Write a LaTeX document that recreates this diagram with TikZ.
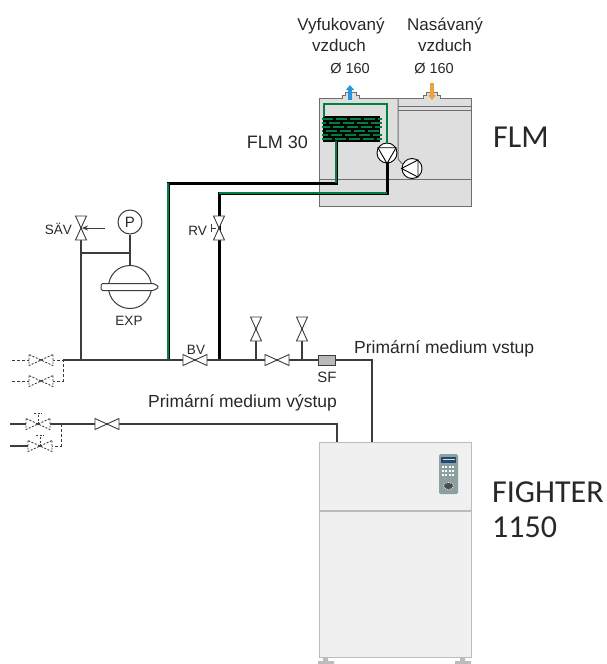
\documentclass[tikz,border=0pt]{standalone}
\usepackage{fontspec}
\setmainfont{Liberation Sans}
\newfontfamily\unitfont{Carlito}
\usetikzlibrary{arrows.meta}

\definecolor{pipegreen}{RGB}{0,128,64}
\definecolor{pipegray}{RGB}{60,60,60}
\definecolor{textgray}{RGB}{40,40,40}
\definecolor{flmfill}{RGB}{222,222,222}
\definecolor{flmline}{RGB}{110,110,110}
\definecolor{figfill}{RGB}{240,240,240}
\definecolor{figline}{RGB}{188,188,188}
\definecolor{outblue}{RGB}{40,150,220}
\definecolor{inorange}{RGB}{240,160,60}
\definecolor{panelgray}{RGB}{140,160,160}
\definecolor{paneldisp}{RGB}{40,70,110}

\tikzset{
  pipe/.style={draw=pipegray, line width=1.2pt},
  dashpipe/.style={pipe, line width=0.9pt, dash pattern=on 3pt off 2pt},
  mainpipe/.style={draw=black, line width=3pt},
  core/.style={draw=pipegreen, line width=1.4pt},
  lbl/.style={font=\fontsize{13.5}{15}\selectfont, inner sep=0pt, text=textgray},
  medlbl/.style={font=\fontsize{17.5}{20}\selectfont, inner sep=0pt, anchor=base west, text=textgray},
  airlbl/.style={font=\fontsize{17}{20}\selectfont, inner sep=0pt, anchor=base, text=textgray},
  unitlbl/.style={font=\unitfont\fontsize{32}{35}\selectfont, inner sep=0pt, anchor=base west, text=textgray},
  rotor/.style={circle, draw=black, fill=white, line width=0.9pt, minimum size=20pt, inner sep=0pt},
  valve/.pic={
    \draw[pipegray, line width=0.9pt, fill=white] (-12,-5.5) -- (-12,5.5) -- (0,0) -- cycle;
    \draw[pipegray, line width=0.9pt, fill=white] (12,-5.5) -- (12,5.5) -- (0,0) -- cycle;
    \fill[pipegray] (0,0) circle (1.1pt);
  },
  gatevalve/.pic={
    \pic {valve};
    \draw[pipegray, line width=0.9pt] (0,0) -- (0,-11) (-4,-11) -- (4,-11);
  }
}

\begin{document}
\begin{tikzpicture}[x=1pt,y=-1pt]
\useasboundingbox (0,0) rectangle (607,664);

% FLM casing
\draw[fill=flmfill, draw=flmline, line width=1pt] (319,98) -- (342,98) -- (342,95) -- (345,95)
  -- (345,92.5) -- (356,92.5) -- (356,95) -- (359,95) -- (359,98) -- (423,98) -- (423,95)
  -- (426,95) -- (426,92.5) -- (437,92.5) -- (437,95) -- (440,95) -- (440,98) -- (471,98)
  -- (471,206) -- (319,206) -- cycle;
\draw[flmline, line width=1pt] (319,179) -- (471,179);
\draw[flmline, line width=1pt] (398,106) -- (471,106) (398,110) -- (471,110);

% air in / out
\draw[outblue, line width=3.5pt, -{Triangle[width=8pt,length=5pt]}] (350,100) -- (350,85);
\draw[inorange, line width=3.5pt, -{Triangle[width=8pt,length=5pt]}] (432,83) -- (432,100);

% fan and pump
\node[rotor] (fan) at (412,168.5) {};
\draw[line width=0.9pt] (fan.180) -- (fan.55) -- (fan.-55) -- cycle;
\draw[flmline, line width=1pt] (398,98) -- (398,159) -- (fan.155);
\node[rotor] (pump) at (387,153) {};

% coil
\fill[black] (323,116) rectangle (380,142);
\foreach \row/\ph in {119/0,123/7,127/3,131/10,135/5,139/1}
  \draw[pipegreen, line width=1.4pt, dash pattern=on 11pt off 3pt, dash phase=\ph pt] (322,\row) -- (382,\row);
\draw[black, line width=2.8pt] (324,117) -- (324,104) -- (387,104) -- (pump.north);
\draw[pipegreen, line width=1.4pt] (324,117) -- (324,104) -- (387,104) -- (pump.north);

% brine pipes to the FLM
\coordinate (pa) at (168,360);
\coordinate (pa-top) at (168,183);
\coordinate (ca) at (336,183);
\coordinate (coil-out) at (336,141);
\coordinate (pb) at (219,360);
\coordinate (pb-top) at (219,193);
\coordinate (cb) at (387,193);
\draw[mainpipe] (pa) -- (pa-top) -- (ca) -- (coil-out);
\draw[core] (pa) -- (pa-top);
\draw[core] (ca) -- (coil-out);
\draw[mainpipe] (pb) -- (pb-top) -- (cb) -- (pump.south);
\draw[core] (pb-top) -- (cb);
\draw[line width=0.9pt] (pump.-90) -- (pump.150) -- (pump.30) -- cycle;

% FIGHTER 1150
\node[draw=figline, fill=figfill, line width=1.3pt, minimum width=152pt, minimum height=215pt,
  inner sep=0pt, anchor=north west] (fighter) at (319,442) {};
\draw[figline, line width=1.3pt] (319,511) -- (471,511);
\fill[figline] (318,661) rectangle (334,664) (323,657) rectangle (328,661);
\fill[figline] (455,661) rectangle (471,664) (460,657) rectangle (465,661);
\fill[panelgray, rounded corners=1.5pt] (439,454) rectangle (458,494);
\fill[paneldisp] (441,456.5) rectangle (456,463);
\draw[white!70!cyan, line width=0.7pt] (442.5,459.5) -- (454.5,459.5);
\foreach \yy in {467,471,475}
  \draw[white, line width=1.2pt, dash pattern=on 2pt off 1.5pt] (441.5,\yy) -- (455.5,\yy);
\draw[white, fill=gray!60!black, line width=0.6pt, dash pattern=on 1pt off 1pt] (448.5,486) ellipse [x radius=5pt, y radius=3.5pt];

% supply line
\coordinate (sup-l) at (63,360);
\coordinate (sav-j) at (81,360);
\coordinate (bv) at (195,360);
\coordinate (v1) at (256,360);
\coordinate (v2) at (277,360);
\coordinate (v3) at (302,360);
\coordinate (sup-r) at (372,360);
\draw[pipe] (sup-l) -- (pa);
\draw[pipe] (pb) -- (sup-r) -- (sup-r |- fighter.north);
\draw[pipe] (pa) -- (pb);
\draw[pipe] (v1) -- (256,329);
\draw[pipe] (v3) -- (302,329);
\pic (bvalve) at (bv) {valve};
\pic at (v2) {valve};
\pic[rotate=90] at (256,329) {valve};
\pic[rotate=90] at (302,329) {valve};
\node[draw=pipegray, fill=gray!55, line width=0.9pt, minimum width=17pt, minimum height=10pt,
  inner sep=0pt] (sf) at (327,360) {};

% return line
\coordinate (ret-l) at (61,424);
\coordinate (ret-r) at (337,424);
\coordinate (rv1) at (107,424);
\draw[pipe] (10,424) -- (ret-r) -- (ret-r |- fighter.north);
\pic at (rv1) {valve};

% service connections
\coordinate (d1) at (41,360);
\coordinate (d2) at (41,381);
\coordinate (r1) at (38,424);
\coordinate (r2) at (40,446);
\draw[dashpipe] (12,360) -- (sup-l) -- (63,381) -- (12,381);
\pic[dash pattern=on 2pt off 1.5pt] at (d1) {valve};
\pic[dash pattern=on 2pt off 1.5pt] at (d2) {valve};
\draw[dashpipe] (ret-l) -- (61,446) -- (r2);
\draw[pipe] (r2) -- (10,446);
\pic[dash pattern=on 2pt off 1.5pt] at (r1) {gatevalve};
\pic[dash pattern=on 2pt off 1.5pt] at (r2) {gatevalve};

% expansion vessel and safety valve
\node[circle, draw=pipegray, line width=1pt, minimum size=24pt, inner sep=0pt, text=textgray,
  font=\fontsize{15}{15}\selectfont] (pg) at (130,222) {P};
\node[circle, draw=pipegray, fill=white, line width=1pt, minimum size=43pt, inner sep=0pt] (exp) at (130,287) {};
\draw[pipegray, fill=white, line width=1pt, rounded corners=1.5pt] (101,283.5) -- (154,283.5)
  -- (159,287) -- (154,290.5) -- (101,290.5) -- cycle;
\coordinate (t1) at (81,253);
\draw[pipe] (sav-j) -- (81,228);
\draw[pipe] (t1) -- (t1 -| pg.south);
\draw[pipe] (pg.south) -- (exp.north);
\pic[rotate=90] (sav) at (81,228) {valve};
\draw[pipegray, line width=0.9pt, -{Stealth[length=6pt,width=5pt]}] (105,228) -- (82,228);

% regulating valve
\pic[rotate=90] (rvalve) at (219,228) {valve};
\draw[pipegray, line width=0.9pt] (211,224) -- (211,232) (211,228) -- (216,228);

% labels
\node[airlbl] (out1) at (341,30) {Vyfukovaný};
\node[airlbl] (out2) at (339,51) {vzduch};
\node[airlbl, font=\fontsize{14.5}{16}\selectfont] (out3) at (350,73) {Ø 160};
\node[airlbl] (in1) at (445,30) {Nasávaný};
\node[airlbl] (in2) at (445,51) {vzduch};
\node[airlbl, font=\fontsize{14.5}{16}\selectfont] (in3) at (434,73) {Ø 160};
\node[lbl, anchor=base east, font=\fontsize{18}{20}\selectfont] (flm30) at (308,148) {FLM 30};
\node[unitlbl] (flm) at (493,147) {FLM};
\node[unitlbl] (fig1) at (492,502) {FIGHTER};
\node[unitlbl] (fig2) at (492,537) {1150};
\node[lbl, anchor=base east] (savl) at (72,234) {SÄV};
\node[lbl, anchor=base east] (rvl) at (207,235) {RV};
\node[lbl, anchor=base] (expl) at (129,325) {EXP};
\node[lbl, anchor=base] (bvl) at (196,354) {BV};
\node[lbl, anchor=base, font=\fontsize{15}{16}\selectfont] (sfl) at (327,382) {SF};
\node[medlbl] (supl) at (354,353) {Primární medium vstup};
\node[medlbl] (retl) at (148,407) {Primární medium výstup};
\end{tikzpicture}
\end{document}
